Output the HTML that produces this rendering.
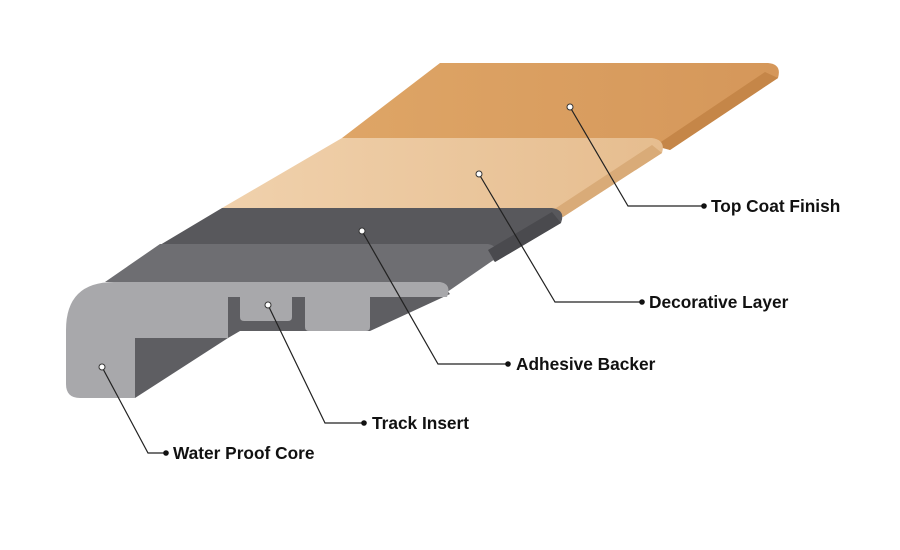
<!DOCTYPE html>
<html><head><meta charset="utf-8"><style>
html,body{margin:0;padding:0;background:#fff;}
svg{display:block;}
text{font-family:"Liberation Sans",sans-serif;font-weight:bold;font-size:17.3px;fill:#111;}
</style></head><body>
<svg width="900" height="550" viewBox="0 0 900 550" xmlns="http://www.w3.org/2000/svg">
<defs>
<linearGradient id="or" x1="0" y1="0" x2="1" y2="0"><stop offset="0" stop-color="#dea566"/><stop offset="1" stop-color="#d5975a"/></linearGradient>
<linearGradient id="lt" x1="0" y1="0" x2="1" y2="0"><stop offset="0" stop-color="#f0d1ac"/><stop offset="1" stop-color="#e6bd8f"/></linearGradient>
</defs>
<path d="M440,63 H768 Q782,64 778,78 L670,150 L640,138 H342 Z" fill="url(#or)"/>
<path d="M778,78 L670,150 L655,146 L765,72 Z" fill="#c58648"/>
<path d="M342,138 H652 Q666,140 662,153 L563,217 L540,208 H222 Z" fill="url(#lt)"/>
<path d="M662,153 L563,217 L550,212 L652,145 Z" fill="#d9ab78"/>
<path d="M222,208 H552 Q566,210 561,223 L495,262 L480,245 H160 Z" fill="#58585c"/>
<path d="M160,244 H488 Q500,246 495,259 L440,297 L420,282 H105 Z" fill="#6e6e72"/>
<path d="M561,223 L495,262 L488,250 L552,212 Z" fill="#4a4a4e"/>
<path d="M135,282 L135,398 L228,338 L240,331 H370 L450,294 L440,282 Z" fill="#5e5e62"/>
<path d="M114,282 H440 Q452,284 447,297 H370 V327 Q370,331 366,331 H309 Q305,331 305,327 V297 H292 V317 Q292,321 288,321 H244 Q240,321 240,317 V297 H228 V338 H135 V398 H80 Q66,398 66,384 V330 Q66,282 114,282 Z" fill="#a8a8ab"/>
<g stroke="#222" stroke-width="1.2" fill="none">
<path d="M570,107 L628,206 H703"/>
<path d="M479,174 L555,302 H641"/>
<path d="M362,231 L438,364 H507"/>
<path d="M268,305 L325,423 H363"/>
<path d="M102,367 L148,453 H165"/>
</g>
<g fill="#fff" stroke="#333" stroke-width="1">
<circle cx="570" cy="107" r="3"/><circle cx="479" cy="174" r="3"/><circle cx="362" cy="231" r="3"/><circle cx="268" cy="305" r="3"/><circle cx="102" cy="367" r="3"/>
</g>
<g fill="#111">
<circle cx="704" cy="206" r="2.8"/><circle cx="642" cy="302" r="2.8"/><circle cx="508" cy="364" r="2.8"/><circle cx="364" cy="423" r="2.8"/><circle cx="166" cy="453" r="2.8"/>
</g>
<text x="711" y="212">Top Coat Finish</text>
<text x="649" y="308">Decorative Layer</text>
<text x="516" y="370">Adhesive Backer</text>
<text x="372" y="429">Track Insert</text>
<text x="173" y="459">Water Proof Core</text>
</svg>
</body></html>
